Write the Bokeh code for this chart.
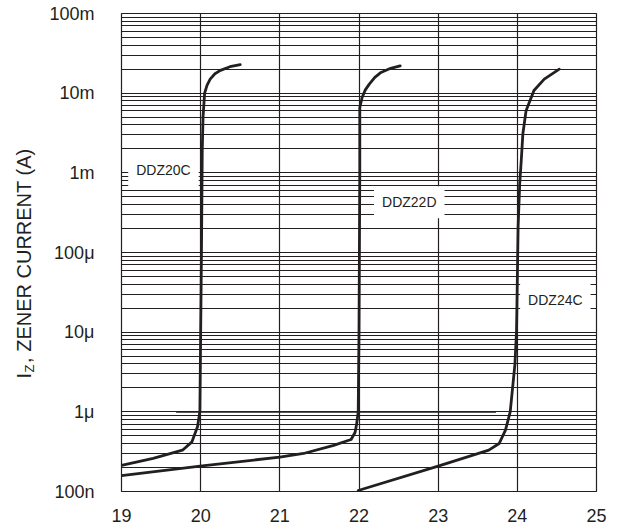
import math
from bokeh.plotting import figure
from bokeh.models import Range1d, FixedTicker, CustomJSTickFormatter, Label
from bokeh.embed import file_html
from bokeh.resources import INLINE

# ---- data ----
x_ticks = [19, 20, 21, 22, 23, 24, 25]
y_ticks = [1e-7, 1e-6, 1e-5, 1e-4, 1e-3, 1e-2, 1e-1]
y_tick_labels = ["100n", "1μ", "10μ", "100μ", "1m", "10m", "100m"]

ddz20c_v = [19.0, 19.40, 19.77, 19.89, 19.96, 19.99, 20.00, 20.01, 20.02, 20.03, 20.05, 20.08, 20.12, 20.18, 20.25, 20.37, 20.50]
ddz20c_i = [2.13e-7, 2.6e-7, 3.3e-7, 4.2e-7, 6.5e-7, 1e-6, 1e-5, 1e-4, 1.9e-3, 5e-3, 1e-2, 1.25e-2, 1.5e-2, 1.75e-2, 1.93e-2, 2.15e-2, 2.28e-2]

ddz22d_v = [19.0, 20.02, 21.0, 21.3, 21.68, 21.90, 21.95, 21.97, 21.99, 22.00, 22.01, 22.01, 22.04, 22.08, 22.13, 22.20, 22.27, 22.40, 22.52]
ddz22d_i = [1.58e-7, 2.1e-7, 2.7e-7, 3.0e-7, 3.8e-7, 4.5e-7, 5.5e-7, 7e-7, 1e-6, 1e-5, 1e-3, 6.6e-3, 8.9e-3, 1.1e-2, 1.3e-2, 1.58e-2, 1.8e-2, 2.05e-2, 2.2e-2]

ddz24c_v = [21.99, 23.01, 23.64, 23.77, 23.85, 23.91, 23.97, 23.99, 24.01, 24.03, 24.05, 24.07, 24.11, 24.21, 24.34, 24.53]
ddz24c_i = [1.03e-7, 2.1e-7, 3.3e-7, 4e-7, 5.9e-7, 1e-6, 4e-6, 1.05e-5, 2.1e-4, 7.3e-4, 1.45e-3, 3.1e-3, 6e-3, 1.08e-2, 1.5e-2, 2.0e-2]

ref_1u_v = [19.69, 23.73]
ref_1u_i = [1e-6, 1e-6]

curve_names = ["DDZ20C", "DDZ22D", "DDZ24C"]
curve_label_v = [19.53, 22.635, 24.48]
curve_label_i = [1.07e-3, 4.26e-4, 2.54e-5]

FONT = "Liberation Sans"
INK = "#231f20"

W, H = 620, 529
p = figure(width=W, height=H, x_axis_type="linear", y_axis_type="log",
           x_range=Range1d(19, 25), y_range=Range1d(1e-7, 1e-1),
           output_backend="svg", toolbar_location=None,
           min_border_left=121, min_border_right=W - 596, min_border_top=13, min_border_bottom=H - 491)
p.background_fill_color = "white"
p.border_fill_color = "white"
p.outline_line_color = INK
p.outline_line_width = 1.2

# axes
p.xaxis.ticker = FixedTicker(ticks=x_ticks)
minor = [m * 10.0 ** e for e in range(-7, -1) for m in range(2, 10)]
p.yaxis.ticker = FixedTicker(ticks=y_ticks, minor_ticks=minor)
p.yaxis.formatter = CustomJSTickFormatter(args=dict(labels=y_tick_labels),
    code="const k = Math.round(Math.log10(tick)) + 7; return labels[k];")
for ax in (p.xaxis[0], p.yaxis[0]):
    ax.axis_line_color = None
    ax.major_tick_line_color = None
    ax.minor_tick_line_color = None
    ax.major_tick_out = 0
    ax.major_tick_in = 0
    ax.minor_tick_out = 0
    ax.major_label_text_font = FONT
    ax.major_label_text_font_size = "18px"
    ax.major_label_text_color = INK
p.xaxis.major_label_standoff = 17
p.yaxis.major_label_standoff = 27

p.xgrid.grid_line_color = INK
p.xgrid.grid_line_width = 1.2
p.ygrid.grid_line_color = INK
p.ygrid.grid_line_width = 1
p.ygrid.minor_grid_line_color = INK
p.ygrid.minor_grid_line_width = 1

# slightly heavier 1µ line segment
p.line(ref_1u_v, ref_1u_i, line_color=INK, line_width=1.8)

# curve labels (white boxes)
for name, lv, li in zip(curve_names, curve_label_v, curve_label_i):
    p.add_layout(Label(x=lv, y=li, text=name, text_align="center", text_baseline="middle",
                       text_font=FONT, text_font_size="14px", text_color=INK,
                       background_fill_color="white", padding=8, level="glyph"))

# curves
for v, i in ((ddz20c_v, ddz20c_i), (ddz22d_v, ddz22d_i), (ddz24c_v, ddz24c_i)):
    p.line(v, i, line_color=INK, line_width=2.8, line_join="round", line_cap="round")

# y axis title with subscript, in the left side panel
ang = math.pi / 2
p.add_layout(Label(x=-1, y=491 - 378, x_units="screen", y_units="screen",
                   text="I\u2002, ZENER CURRENT (A)", angle=ang,
                   text_align="left", text_baseline="alphabetic", text_font=FONT,
                   text_font_size="20px", text_color=INK), "left")
p.add_layout(Label(x=20, y=491 - 372, x_units="screen", y_units="screen", text="Z", angle=ang,
                   text_align="left", text_baseline="alphabetic", text_font=FONT,
                   text_font_size="13px", text_color=INK), "left")

open("out.html", "w").write(file_html(p, INLINE))
